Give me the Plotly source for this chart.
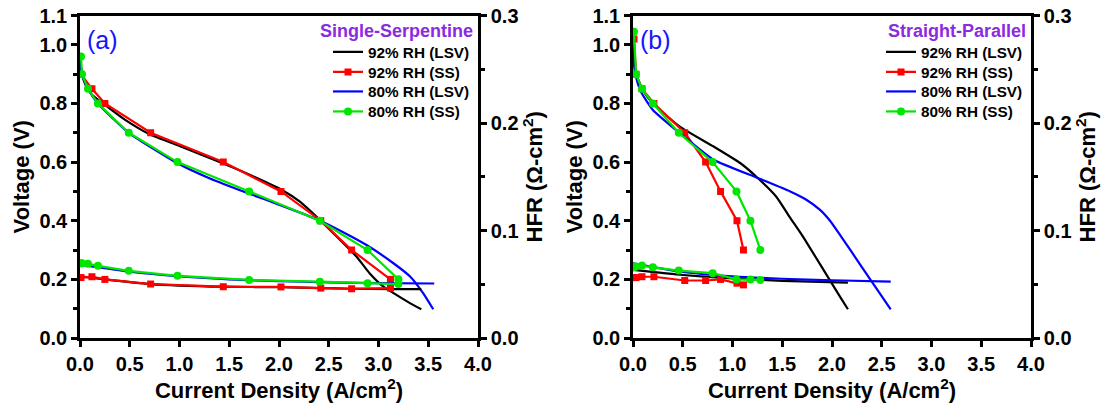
import plotly.graph_objects as go

# ---------------- Panel (a): single-serpentine flow field ----------------
a_x_92_lsv = [0.0, 0.02, 0.06, 0.12, 0.25, 0.45, 0.70, 1.00, 1.44, 1.71, 2.03, 2.21, 2.41, 2.58, 2.78, 2.91, 3.05, 3.18, 3.32, 3.43]
a_v_92_lsv = [0.95, 0.90, 0.86, 0.83, 0.795, 0.745, 0.695, 0.655, 0.595, 0.556, 0.505, 0.465, 0.403, 0.346, 0.277, 0.221, 0.175, 0.147, 0.118, 0.098]

a_x_92_ss = [0.01, 0.12, 0.25, 0.71, 1.44, 2.02, 2.42, 2.73, 3.12]
a_v_92_ss = [0.90, 0.85, 0.80, 0.70, 0.60, 0.50, 0.40, 0.30, 0.20]

a_x_80_lsv = [0.0, 0.02, 0.08, 0.18, 0.49, 0.98, 1.30, 1.71, 2.00, 2.38, 2.65, 2.88, 3.15, 3.32, 3.45, 3.55]
a_v_80_lsv = [0.96, 0.90, 0.85, 0.80, 0.70, 0.596, 0.545, 0.491, 0.455, 0.405, 0.36, 0.317, 0.255, 0.209, 0.152, 0.098]

a_x_80_ss = [0.01, 0.02, 0.08, 0.18, 0.49, 0.98, 1.70, 2.41, 2.89, 3.20]
a_v_80_ss = [0.96, 0.90, 0.85, 0.80, 0.70, 0.60, 0.50, 0.40, 0.30, 0.20]

# high-frequency resistance (Ohm-cm^2)
a_hfr_x_92_lsv = [0.0, 0.25, 0.70, 1.44, 2.02, 2.42, 2.73, 3.12, 3.43]
a_hfr_92_lsv = [0.0573, 0.0545, 0.0502, 0.0477, 0.0472, 0.0464, 0.0458, 0.0455, 0.0455]
a_hfr_92_ss = [0.0562, 0.0570, 0.0545, 0.0502, 0.0477, 0.0475, 0.0464, 0.0458, 0.0464]
a_hfr_x_80_lsv = [0.0, 0.5, 1.0, 1.5, 2.0, 2.5, 3.0, 3.56]
a_hfr_80_lsv = [0.0682, 0.0616, 0.0573, 0.0545, 0.0529, 0.0518, 0.0510, 0.0507]
a_hfr_80_ss = [0.0695, 0.0695, 0.0690, 0.0671, 0.0625, 0.0578, 0.0540, 0.0524, 0.0510, 0.0502]

# ---------------- Panel (b): straight-parallel flow field ----------------
b_x_92_lsv = [0.0, 0.01, 0.03, 0.10, 0.20, 0.47, 0.81, 1.08, 1.24, 1.44, 1.58, 1.70, 1.91, 2.08, 2.16]
b_v_92_lsv = [1.00, 0.95, 0.90, 0.845, 0.80, 0.721, 0.653, 0.596, 0.55, 0.482, 0.41, 0.35, 0.235, 0.141, 0.098]

b_x_92_ss = [0.01, 0.03, 0.09, 0.21, 0.52, 0.73, 0.88, 1.045, 1.11]
b_v_92_ss = [1.02, 0.90, 0.85, 0.80, 0.70, 0.60, 0.50, 0.40, 0.30]

b_x_80_lsv = [0.0, 0.01, 0.03, 0.08, 0.20, 0.47, 0.81, 1.26, 1.58, 1.73, 1.88, 1.98, 2.08, 2.30, 2.59]
b_v_80_lsv = [0.98, 0.93, 0.89, 0.84, 0.778, 0.699, 0.608, 0.545, 0.50, 0.474, 0.437, 0.40, 0.352, 0.242, 0.098]

b_x_80_ss = [0.01, 0.03, 0.09, 0.20, 0.46, 0.80, 1.04, 1.18, 1.28]
b_v_80_ss = [1.045, 0.90, 0.85, 0.80, 0.70, 0.60, 0.50, 0.40, 0.30]

b_hfr_x_92_lsv = [0.0, 0.5, 1.0, 1.5, 2.16]
b_hfr_92_lsv = [0.0633, 0.0586, 0.0554, 0.0532, 0.0516]
b_hfr_92_ss = [0.0562, 0.0562, 0.0570, 0.0570, 0.0535, 0.0535, 0.0545, 0.0510, 0.0494]
b_hfr_x_80_lsv = [0.0, 0.5, 1.0, 1.5, 2.0, 2.59]
b_hfr_80_lsv = [0.0695, 0.0614, 0.0573, 0.0551, 0.0537, 0.0524]
b_hfr_80_ss = [0.0657, 0.0665, 0.0674, 0.0657, 0.0627, 0.0603, 0.0545, 0.0545, 0.0540]

# ---------------- ticks / labels ----------------
x_ticks = [0.0, 0.5, 1.0, 1.5, 2.0, 2.5, 3.0, 3.5, 4.0]
v_ticks = [0.0, 0.2, 0.4, 0.6, 0.8, 1.0, 1.1]
v_minor = [0.1, 0.3, 0.5, 0.7, 0.9]
hfr_ticks = [0.0, 0.1, 0.2, 0.3]
hfr_minor = [0.05, 0.15, 0.25]
series_names = ["92% RH (LSV)", "92% RH (SS)", "80% RH (LSV)", "80% RH (SS)"]
panel_titles = ["Single-Serpentine", "Straight-Parallel"]
panel_tags = ["(a)", "(b)"]

BLACK, RED, BLUE, GREEN = "#000000", "#FF0000", "#0000FF", "#00E600"
FONT = "Liberation Sans, Arial, sans-serif"
W, H = 1106, 405

fig = go.Figure()


def add_panel(xs, ys, ys2, legs, lsv92, ss92, lsv80, ss80, h92l, h92s, h80l, h80s):
    lw = 2.2
    # polarization curves (left axis), one legend entry each
    fig.add_trace(go.Scatter(x=lsv92[0], y=lsv92[1], mode="lines", name=series_names[0],
                             line=dict(color=BLACK, width=lw, shape="spline", smoothing=0.5),
                             xaxis=xs, yaxis=ys, legend=legs[0]))
    fig.add_trace(go.Scatter(x=ss92[0], y=ss92[1], mode="lines+markers", name=series_names[1],
                             line=dict(color=RED, width=lw), marker=dict(symbol="square", size=7, color=RED),
                             xaxis=xs, yaxis=ys, legend=legs[1]))
    fig.add_trace(go.Scatter(x=lsv80[0], y=lsv80[1], mode="lines", name=series_names[2],
                             line=dict(color=BLUE, width=lw, shape="spline", smoothing=0.5),
                             xaxis=xs, yaxis=ys, legend=legs[2]))
    fig.add_trace(go.Scatter(x=ss80[0], y=ss80[1], mode="lines+markers", name=series_names[3],
                             line=dict(color=GREEN, width=lw), marker=dict(symbol="circle", size=8, color=GREEN),
                             xaxis=xs, yaxis=ys, legend=legs[3]))
    # HFR curves (right axis)
    fig.add_trace(go.Scatter(x=h92l[0], y=h92l[1], mode="lines", showlegend=False,
                             line=dict(color=BLACK, width=lw, shape="spline", smoothing=0.5),
                             xaxis=xs, yaxis=ys2))
    fig.add_trace(go.Scatter(x=h92s[0], y=h92s[1], mode="lines+markers", showlegend=False,
                             line=dict(color=RED, width=lw), marker=dict(symbol="square", size=7, color=RED),
                             xaxis=xs, yaxis=ys2))
    fig.add_trace(go.Scatter(x=h80l[0], y=h80l[1], mode="lines", showlegend=False,
                             line=dict(color=BLUE, width=lw, shape="spline", smoothing=0.5),
                             xaxis=xs, yaxis=ys2))
    fig.add_trace(go.Scatter(x=h80s[0], y=h80s[1], mode="lines+markers", showlegend=False,
                             line=dict(color=GREEN, width=lw), marker=dict(symbol="circle", size=8, color=GREEN),
                             xaxis=xs, yaxis=ys2))


legend_ids_a = ["legend", "legend2", "legend3", "legend4"]
legend_ids_b = ["legend5", "legend6", "legend7", "legend8"]

add_panel("x", "y", "y2", legend_ids_a,
          (a_x_92_lsv, a_v_92_lsv), (a_x_92_ss, a_v_92_ss),
          (a_x_80_lsv, a_v_80_lsv), (a_x_80_ss, a_v_80_ss),
          (a_hfr_x_92_lsv, a_hfr_92_lsv), (a_x_92_ss, a_hfr_92_ss),
          (a_hfr_x_80_lsv, a_hfr_80_lsv), (a_x_80_ss, a_hfr_80_ss))
add_panel("x2", "y3", "y4", legend_ids_b,
          (b_x_92_lsv, b_v_92_lsv), (b_x_92_ss, b_v_92_ss),
          (b_x_80_lsv, b_v_80_lsv), (b_x_80_ss, b_v_80_ss),
          (b_hfr_x_92_lsv, b_hfr_92_lsv), (b_x_92_ss, b_hfr_92_ss),
          (b_hfr_x_80_lsv, b_hfr_80_lsv), (b_x_80_ss, b_hfr_80_ss))

tick_font = dict(family=FONT, size=20, color="black", weight="bold")
title_font = dict(family=FONT, size=22, color="black", weight="bold")
y_dom = [1 - 338 / H, 1 - 15.5 / H]
x_doms = [[80 / W, 478 / W], [633 / W, 1031 / W]]
axis_common = dict(showline=True, linecolor="black", linewidth=2.5, ticks="outside",
                   tickwidth=2.5, ticklen=6, tickcolor="black", showgrid=False,
                   zeroline=False, tickfont=tick_font, automargin=False)

layout_axes = {}
for i, (xk, yk, y2k) in enumerate([("xaxis", "yaxis", "yaxis2"), ("xaxis2", "yaxis3", "yaxis4")]):
    ys = yk.replace("axis", "")
    xs = xk.replace("axis", "")
    layout_axes[xk] = dict(axis_common, domain=x_doms[i], range=[0, 4], anchor=ys,
                           tickvals=x_ticks, ticktext=[f"{v:.1f}" for v in x_ticks],
                           mirror=True,
                           title=dict(text="Current Density (A/cm<sup>2</sup>)", font=title_font, standoff=1))
    layout_axes[yk] = dict(axis_common, domain=y_dom, range=[0, 1.1], anchor=xs,
                           tickvals=v_ticks, ticktext=[f"{v:.1f}" for v in v_ticks],
                           minor=dict(tickvals=v_minor, ticks="outside", ticklen=4, tickwidth=2.5, tickcolor="black"),
                           title=dict(text="Voltage (V)", font=title_font, standoff=4))
    layout_axes[y2k] = dict(axis_common, domain=y_dom, range=[0, 0.3], anchor=xs, overlaying=ys, side="right",
                            tickvals=hfr_ticks, ticktext=[f"{v:.1f}" for v in hfr_ticks],
                            minor=dict(tickvals=hfr_minor, ticks="outside", ticklen=4, tickwidth=2.5, tickcolor="black"),
                            title=dict(text="HFR (\u03a9-cm<sup>2</sup>)", font=title_font, standoff=4))

# legend rows (pixel centres from the top) and left edge of the legend symbols
legend_rows_px = [52, 72, 91.5, 111.5]
legend_left_px = [328, 881]
legend_layout = {}
for left_px, ids in zip(legend_left_px, [legend_ids_a, legend_ids_b]):
    for row_px, lid in zip(legend_rows_px, ids):
        legend_layout[lid] = dict(bgcolor="rgba(0,0,0,0)",
                                  font=dict(family=FONT, size=15.3, color="black", weight="bold"),
                                  itemwidth=30, xanchor="left", yanchor="middle",
                                  x=left_px / W, y=1 - row_px / H)

annotations = []
for i, (tag, ttl) in enumerate(zip(panel_tags, panel_titles)):
    left = x_doms[i][0]
    right = x_doms[i][1]
    annotations.append(dict(text=tag, xref="paper", yref="paper", x=left + 5 / W, y=1 - 40 / H,
                            xanchor="left", yanchor="middle", showarrow=False,
                            font=dict(family=FONT, size=25, color="#1515FF")))
    annotations.append(dict(text=ttl, xref="paper", yref="paper", x=right - 3 / W, y=1 - 31 / H,
                            xanchor="right", yanchor="middle", showarrow=False,
                            font=dict(family=FONT, size=18, color="#8A2BE2", weight="bold")))

fig.update_layout(
    width=W, height=H,
    margin=dict(l=0, r=0, t=0, b=0, autoexpand=False),
    paper_bgcolor="white", plot_bgcolor="white",
    showlegend=True,
    annotations=annotations,
    **legend_layout,
    **layout_axes,
)

fig.write_html("out.html")
